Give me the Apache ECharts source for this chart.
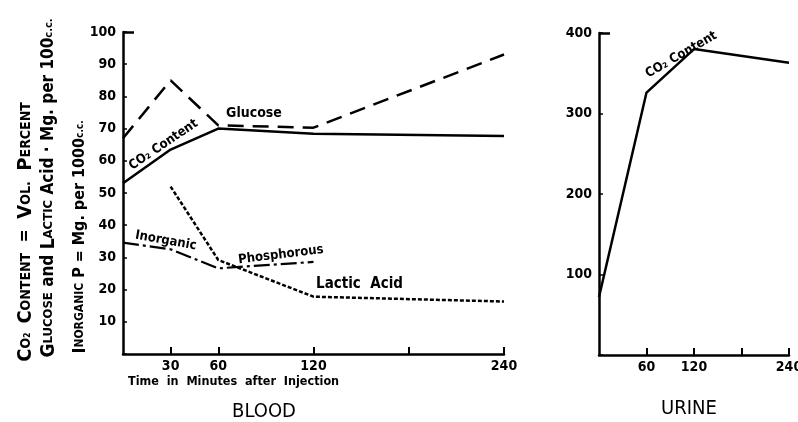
<!DOCTYPE html>
<html><head><meta charset="utf-8">
<script src="https://cdn.jsdelivr.net/npm/echarts@6/dist/echarts.min.js"></script>
<style>html,body{margin:0;padding:0;background:#fff}#c{width:798px;height:422px}</style>
</head><body><div id="c"></div>
<script>
// ---- data ----
const bloodTime = [0, 30, 60, 120, 240];
const glucose = [67, 85, 71, 70.3, 93];
const co2Blood = [53, 63.5, 70, 68.4, 67.7];
const lacticTime = [30, 60, 120, 240];
const lacticAcid = [52, 29.2, 17.8, 16.3];
const phosTime = [0, 30, 60, 120];
const inorganicP = [34.6, 32.5, 26.6, 28.6];
const urineTime = [0, 60, 120, 240];
const co2Urine = [72, 326, 380, 363];
const bloodTickValues = [30, 60, 120, 180, 240];
const bloodLabelValues = [30, 60, 120, 240];
const urineTickValues = [60, 120, 180, 240];
const urineLabelValues = [60, 120, 240];

const pairs = (xs, ys) => xs.map((x, i) => [x, ys[i]]);
const tickFont = "'Liberation Sans Narrow','DejaVu Sans Condensed',sans-serif";
const annFont = "'DejaVu Sans Condensed','Liberation Sans Narrow',sans-serif";
const chart = echarts.init(document.getElementById('c'), null, {renderer: 'canvas'});

function xAx(grid, ticks, labels) {
  return {
    gridIndex: grid, type: 'value', min: 0, max: 240,
    axisLine: {lineStyle: {color: '#000', width: 2.5}},
    axisTick: {inside: true, length: 7, customValues: ticks, lineStyle: {color: '#000', width: 2}},
    axisLabel: {customValues: labels, color: '#000', fontFamily: tickFont, fontWeight: 'bold', fontSize: 14, margin: 5},
    splitLine: {show: false}
  };
}
function yAx(grid, max, interval) {
  return {
    gridIndex: grid, type: 'value', min: 0, max: max, interval: interval,
    axisLine: {show: true, lineStyle: {color: '#000', width: 2.5}},
    axisTick: {show: true, inside: true, length: 4, lineStyle: {color: '#000', width: 1.5}},
    axisLabel: {color: '#000', fontFamily: tickFont, fontWeight: 'bold', fontSize: 14, margin: 7,
      formatter: v => v === 0 ? '' : String(v)},
    splitLine: {show: false}
  };
}
function topTick(grid, max) {
  return {
    gridIndex: grid, type: 'value', min: 0, max: max, position: 'left',
    axisLine: {show: false},
    axisTick: {show: true, inside: true, length: 11, customValues: [max], lineStyle: {color: '#000', width: 2.5}},
    axisLabel: {show: false}, splitLine: {show: false}
  };
}
function line(xi, yi, data, type, width) {
  return {type: 'line', xAxisIndex: xi, yAxisIndex: yi, data: data, symbol: 'none', silent: true,
    animation: false, lineStyle: {color: '#000', width: width || 2.5, type: type, cap: 'butt'}};
}

chart.setOption({
  animation: false,
  grid: [
    {left: 123, top: 32, width: 381, height: 322, outerBoundsMode: 'none', containLabel: false},
    {left: 599, top: 33, width: 190, height: 322, outerBoundsMode: 'none', containLabel: false}
  ],
  xAxis: [xAx(0, bloodTickValues, bloodLabelValues), xAx(1, urineTickValues, urineLabelValues)],
  yAxis: [yAx(0, 100, 10), yAx(1, 400, 100), topTick(0, 100), topTick(1, 400)],
  series: [
    line(0, 0, pairs(bloodTime, glucose), [16, 9]),
    line(0, 0, pairs(bloodTime, co2Blood), 'solid'),
    line(0, 0, pairs(lacticTime, lacticAcid), [4, 2], 2.5),
    line(0, 0, pairs(phosTime, inorganicP), [16, 4, 3, 4], 2.2),
    line(1, 1, pairs(urineTime, co2Urine), 'solid')
  ]
});

// annotations in data coordinates
const annotations = [
  {grid: 0, x: 82.5, y: 74.8, text: 'Glucose', rot: 0, size: 14},
  {grid: 0, x: 25.5, y: 65, text: 'CO₂ Content', rot: 34, size: 13},
  {grid: 0, x: 27, y: 35.2, text: 'Inorganic', rot: -10, size: 13},
  {grid: 0, x: 99.5, y: 30.8, text: 'Phosphorous', rot: 7, size: 13},
  {grid: 0, x: 149, y: 21.8, text: 'Lactic  Acid', rot: 0, size: 15},
  {grid: 1, x: 104, y: 373, text: 'CO₂ Content', rot: 30, size: 13}
];
const gfx = annotations.map(a => {
  const p = chart.convertToPixel({xAxisIndex: a.grid, yAxisIndex: a.grid}, [a.x, a.y]);
  return {type: 'text', x: p[0], y: p[1], rotation: a.rot * Math.PI / 180, silent: true,
    style: {text: a.text, fill: '#000', font: 'bold ' + a.size + 'px ' + annFont, align: 'center', verticalAlign: 'middle'}};
});

function richSet(k) {
  const mk = s => ({fontSize: Math.round(s * k), fontFamily: annFont, fontWeight: 'bold', fill: '#000'});
  return {B: mk(17), s: mk(12), n: mk(15), t: mk(10)};
}
function vtext(x, y, t, k) {
  return {type: 'text', x: x, y: y, rotation: Math.PI / 2, silent: true,
    style: {text: t, rich: richSet(k), align: 'center', verticalAlign: 'middle', fill: '#000'}};
}
gfx.push(vtext(26, 232, '{B|C}{s|O₂  }{B|C}{s|ONTENT}{n|  =  }{B|V}{s|OL.}{n|  }{B|P}{s|ERCENT}', 1.15));
gfx.push(vtext(49, 188, '{B|G}{s|LUCOSE}{n| and }{B|L}{s|ACTIC}{n| Acid · Mg. per 100}{t|c.c.}', 1.12));
gfx.push(vtext(80, 237, '{B|I}{s|NORGANIC}{n| P = Mg. per 1000}{t|c.c.}', 1.04));

gfx.push({type: 'text', x: 128, y: 382, silent: true,
  style: {text: 'Time  in  Minutes  after  Injection', fill: '#000', font: 'bold 12.5px ' + tickFont, align: 'left', verticalAlign: 'middle'}});
gfx.push({type: 'text', x: 264, y: 412, silent: true,
  style: {text: 'BLOOD', fill: '#000', font: '20px ' + tickFont, align: 'center', verticalAlign: 'middle'}});
gfx.push({type: 'text', x: 689, y: 409, silent: true,
  style: {text: 'URINE', fill: '#000', font: '20px ' + tickFont, align: 'center', verticalAlign: 'middle'}});

chart.setOption({graphic: gfx});
</script></body></html>
